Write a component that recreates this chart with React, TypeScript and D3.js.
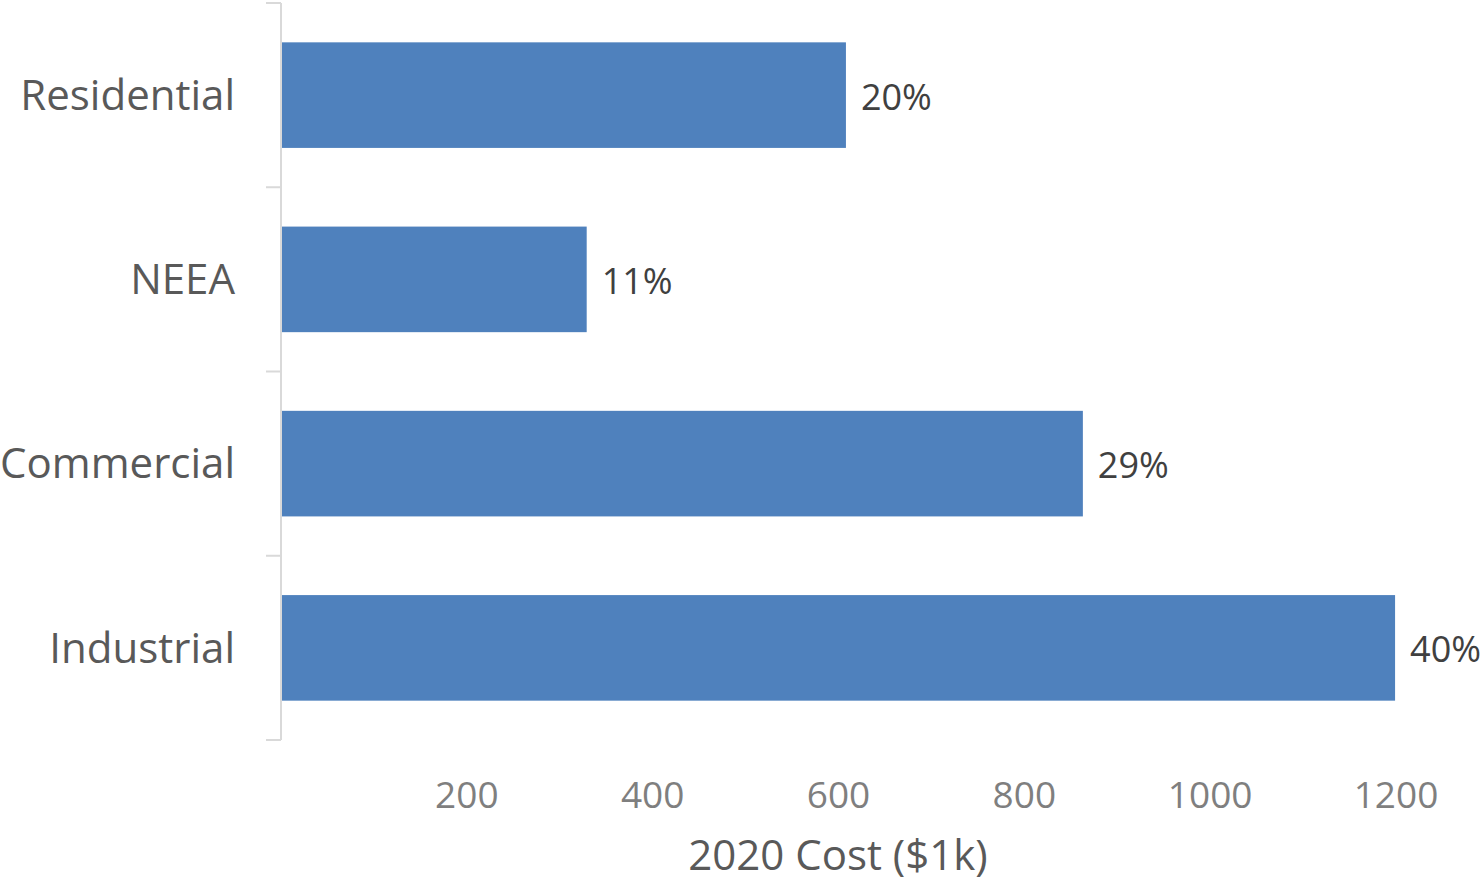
import React from "react";
import * as d3 from "d3";

const categories = ["Residential", "NEEA", "Commercial", "Industrial"];
const costs = [608, 329, 863, 1199];
const shareLabels = ["20%", "11%", "29%", "40%"];
const xTicks = [200, 400, 600, 800, 1000, 1200];
const xTitle = "2020 Cost ($1k)";

const W = 1480;
const H = 881;
const FONT = "'Open Sans', sans-serif";

export default function App() {
  const x = d3.scaleLinear().domain([0, 1200]).range([281, 1396]);
  const y = d3.scaleBand<string>().domain(categories).range([3, 740]).paddingInner(0.427).paddingOuter(0.2135);
  const bandEdges = [0, 1, 2, 3, 4].map((i) => 3 + (i * (740 - 3)) / 4);

  return (
    <svg width={W} height={H} style={{ position: "absolute", left: 0, top: 0, background: "#fff" }}>
      <line x1={281} x2={281} y1={3} y2={740} stroke="#d9d9d9" strokeWidth={2} />
      {bandEdges.map((e, i) => (
        <line key={i} x1={266} x2={281} y1={e} y2={e} stroke="#d9d9d9" strokeWidth={2} />
      ))}
      {categories.map((c, i) => (
        <g key={c}>
          <rect x={x(0) + 1} y={y(c)!} width={x(costs[i]) - x(0) - 1} height={y.bandwidth()} fill="#4F81BD" />
          <text x={x(costs[i]) + 15} y={y(c)! + y.bandwidth() / 2 + 2} dy="0.35em" fontFamily={FONT} fontSize={36} fill="#404040">
            {shareLabels[i]}
          </text>
          <text x={235} y={y(c)! + y.bandwidth() / 2} dy="0.35em" textAnchor="end" fontFamily={FONT} fontSize={42} fill="#595959">
            {c}
          </text>
        </g>
      ))}
      {xTicks.map((t) => (
        <text key={t} x={x(t)} y={795} dy="0.35em" textAnchor="middle" fontFamily={FONT} fontSize={37} fill="#7f7f7f">
          {t}
        </text>
      ))}
      <text x={838} y={855} dy="0.35em" textAnchor="middle" fontFamily={FONT} fontSize={42} fill="#595959">
        {xTitle}
      </text>
    </svg>
  );
}
